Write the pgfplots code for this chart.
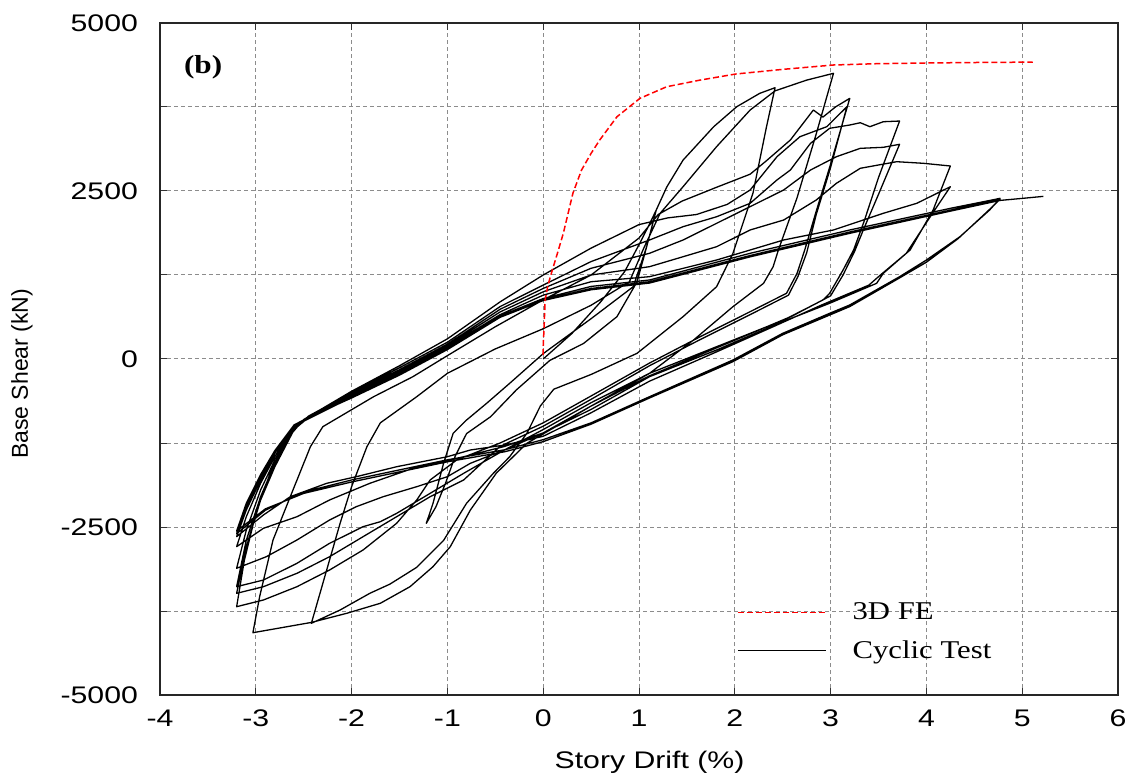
\documentclass[border=0pt]{standalone}
\usepackage{fontspec}
\setmainfont[FakeStretch=1.26]{Liberation Sans}
\newfontfamily\plainsans{Liberation Sans}
\newfontfamily\serifwide[FakeStretch=1.2]{Liberation Serif}
\usepackage{pgfplots}
\pgfplotsset{compat=1.18}

\pgfplotsset{
  festyle/.style={red, line width=0.75pt, dash pattern=on 3pt off 1.5pt},
  teststyle/.style={black, line width=0.65pt, line join=round},
}

\begin{document}
\begin{tikzpicture}
\begin{axis}[
  scale only axis,
  width=479pt, height=336pt,
  xmin=-4, xmax=6, ymin=-5000, ymax=5000,
  xtick={-4,-3,-2,-1,0,1,2,3,4,5,6},
  xticklabels={-4,-3,-2,-1,0,1,2,3,4,5,6},
  ytick={-5000,-2500,0,2500,5000},
  yticklabels={-5000,-2500,0,2500,5000},
  minor ytick={-3750,-1250,1250,3750},
  grid=both,
  major grid style={black!45, line width=0.5pt, dash pattern=on 2pt off 1.5pt},
  minor grid style={black!45, line width=0.5pt, dash pattern=on 2pt off 1.5pt},
  tick align=inside,
  major tick length=3.5pt, minor tick length=3.5pt,
  tick style={black!80, line width=0.5pt},
  axis line style={black!85, line width=1pt},
  tick label style={font=\fontsize{12}{14}\selectfont},
  xticklabel style={yshift=-4pt},
  yticklabel style={xshift=-7.5pt},
  xlabel={Story Drift (\%)},
  xlabel style={at={(axis description cs:0.511,-0.0997)}, anchor=center,
                font=\fontsize{12}{14}\selectfont},
  ylabel={Base Shear (kN)},
  ylabel style={at={(axis description cs:-0.144,0.478)}, anchor=center,
                font=\plainsans\fontsize{11.5}{14}\selectfont},
  legend style={at={(axis cs:2.02,-3555)}, anchor=north west, draw=none,
                fill=none, inner sep=0pt, row sep=5pt,
                font=\serifwide\fontsize{12.8}{15}\selectfont,
                /tikz/every odd column/.style={column sep=11pt}},
  legend cell align=left,
  legend image code/.code={\draw[#1] (0pt,0pt) -- (44pt,0pt);},
]

% cyclic test: one continuous load history
\addplot[teststyle, forget plot] coordinates {
(0,0) (0.3,380) (0.6,850) (0.85,1300) (1.0,1700) (1.1,1980) (1.18,2217)
(1.08,1671) (0.98,1150) (0.77,630) (0.42,230) (0.07,-20) (-0.28,-460) (-0.55,-860) (-0.8,-1110) (-0.92,-1450) (-1.02,-1850) (-1.12,-2200) (-1.22,-2445)
(-1.15,-2147) (-1.04,-1552) (-0.94,-1106) (-0.80,-908) (-0.59,-659) (-0.35,-362) (0,80) (0.5,600) (0.94,1076) (1.08,1671) (1.18,2217) (1.29,2560) (1.46,2960) (1.78,3457) (2.02,3754) (2.26,3953) (2.42,4037)
(2.33,3450) (2.19,2470) (1.98,1570) (1.81,1076) (1.46,630) (0.98,85) (0.5,-230) (0.11,-450) (-0.03,-700) (-0.17,-1106) (-0.35,-1454) (-0.52,-1700) (-0.80,-2147) (-1.04,-2700) (-1.32,-3100) (-1.6,-3350) (-1.81,-3487) (-2.12,-3735) (-2.42,-3933)
(-2.30,-3338) (-2.12,-2445) (-2.0,-1900) (-1.84,-1305) (-1.70,-950) (-1.32,-561) (-1.0,-213) (-0.5,150) (0,450) (0.5,800) (0.9,1150) (1.05,1650) (1.22,2167) (1.46,2564) (1.81,3160) (2.16,3705) (2.42,3990) (2.75,4150) (3.03,4251)
(2.85,3350) (2.65,2400) (2.455,1622) (2.40,1373) (2.30,1126) (1.98,778) (1.57,283) (1.11,-213) (0.5,-700) (0.2,-950) (-0.17,-1254) (-0.49,-1700) (-0.76,-2247) (-0.97,-2793) (-1.15,-3090) (-1.39,-3388) (-1.70,-3635) (-2.05,-3784) (-2.42,-3920) (-3.03,-4073)
(-2.96,-3537) (-2.82,-2693) (-2.64,-2049) (-2.43,-1305) (-2.30,-1007) (-1.77,-561) (-1.36,-263) (-1.0,50) (-0.5,480) (0,880) (0.5,1250) (1.0,1800) (1.2,2150) (1.45,2350) (1.8,2550) (2.16,2750) (2.33,2950) (2.58,3259) (2.82,3705) (2.92,3600) (3.05,3750) (3.2,3879)
(3.0,2900) (2.85,2200) (2.73,1622) (2.65,1275) (2.54,978) (2.16,704) (1.64,332) (1.11,-60) (0.5,-550) (0,-950) (-0.45,-1250) (-0.9,-1500) (-1.18,-1800) (-1.32,-2098) (-1.53,-2445) (-1.88,-2842) (-2.23,-3140) (-2.57,-3388) (-2.92,-3586) (-3.2,-3686)
(-3.12,-3000) (-3.0,-2300) (-2.85,-1700) (-2.65,-1150) (-2.5,-900) (-2.0,-480) (-1.5,-100) (-1.0,300) (-0.45,850) (0,1250) (0.5,1650) (1.0,2000) (1.3,2100) (1.6,2150) (1.92,2300) (2.16,2515) (2.44,3010) (2.68,3308) (2.96,3457) (3.17,3754)
(3.0,2850) (2.85,2150) (2.75,1580) (2.66,1230) (2.56,950) (2.16,660) (1.64,290) (1.11,-100) (0.5,-600) (0,-1000) (-0.45,-1300) (-0.83,-1800) (-1.18,-2049) (-1.53,-2347) (-1.88,-2644) (-2.23,-2942) (-2.57,-3189) (-2.92,-3388) (-3.2,-3487)
(-3.1,-2800) (-2.95,-2100) (-2.8,-1600) (-2.6,-1050) (-2.45,-850) (-2.0,-500) (-1.5,-130) (-1.0,250) (-0.45,780) (0,1100) (0.5,1450) (1.11,1771) (1.46,1969) (1.81,2117) (2.16,2317) (2.44,2664) (2.58,2812) (2.79,3209) (2.99,3433) (3.20,3482) (3.31,3516) (3.41,3457) (3.55,3531) (3.72,3541)
(3.5,2700) (3.35,2050) (3.24,1622) (3.13,1324) (2.99,978) (2.92,878) (2.51,580) (1.81,183) (1.11,-213) (0.5,-650) (0,-1050) (-0.4,-1350) (-0.83,-1701) (-1.18,-1999) (-1.53,-2297) (-1.70,-2421) (-1.88,-2495) (-2.23,-2743) (-2.57,-3040) (-2.92,-3289) (-3.2,-3388)
(-3.1,-2700) (-2.95,-2050) (-2.8,-1550) (-2.6,-1050) (-2.45,-870) (-2.0,-520) (-1.5,-160) (-1.0,220) (-0.45,740) (0,1050) (0.5,1350) (1.11,1573) (1.46,1771) (1.81,2019) (2.16,2267) (2.51,2515) (2.79,2812) (3.06,3010) (3.31,3135) (3.55,3150) (3.72,3195)
(3.5,2450) (3.35,1950) (3.25,1600) (3.13,1250) (3.0,940) (2.6,640) (1.9,220) (1.11,-250) (0.5,-700) (0,-1100) (-0.4,-1350) (-0.76,-1552) (-1.0,-1751) (-1.32,-1900) (-1.67,-2049) (-1.95,-2197) (-2.23,-2396) (-2.57,-2693) (-2.89,-2942) (-3.2,-3114)
(-3.1,-2550) (-2.95,-1950) (-2.8,-1500) (-2.6,-1020) (-2.45,-880) (-2.0,-540) (-1.5,-180) (-1.0,200) (-0.45,700) (0,1000) (0.5,1250) (1.11,1374) (1.46,1522) (1.81,1671) (2.16,1920) (2.51,2068) (2.85,2366) (3.06,2614) (3.31,2838) (3.69,2936) (3.97,2912) (4.25,2872)
(4.07,2217) (3.83,1622) (3.55,1275) (3.48,1126) (2.99,829) (2.5,555) (1.81,134) (1.11,-263) (0.5,-750) (0,-1100) (-0.4,-1300) (-0.83,-1454) (-1.36,-1627) (-1.81,-1850) (-2.23,-2098) (-2.57,-2347) (-2.92,-2519) (-3.2,-2793)
(-3.1,-2350) (-2.95,-1850) (-2.8,-1450) (-2.6,-1000) (-2.45,-880) (-2.0,-560) (-1.5,-200) (-1.0,180) (-0.45,660) (0,950) (0.5,1150) (1.11,1225) (1.81,1473) (2.51,1771) (3.03,1920) (3.55,2168) (3.90,2317) (4.25,2564)
(4.04,2117) (3.79,1573) (3.52,1250) (3.4,1100) (2.9,800) (2.4,480) (1.8,100) (1.11,-330) (0.5,-800) (0,-1150) (-0.4,-1280) (-0.76,-1354) (-1.0,-1454) (-1.53,-1603) (-1.95,-1751) (-2.26,-1850) (-2.64,-2049) (-2.92,-2321) (-3.2,-2644)
(-3.1,-2250) (-2.95,-1800) (-2.8,-1400) (-2.6,-1000) (-2.45,-890) (-2.0,-570) (-1.5,-220) (-1.0,160) (-0.45,640) (0,900) (0.5,1080) (1.11,1176) (2.16,1573) (3.20,1920) (4.25,2242) (4.77,2391)
(4.66,2217) (4.35,1820) (4.0,1473) (3.72,1225) (3.20,804) (2.99,680) (2.5,382) (1.98,-15) (1.11,-561) (0.5,-950) (0,-1200) (-0.4,-1350) (-1.0,-1500) (-1.5,-1650) (-2.0,-1800) (-2.5,-1980) (-2.9,-2250) (-3.2,-2600)
(-3.1,-2200) (-2.95,-1750) (-2.8,-1380) (-2.6,-990) (-2.45,-880) (-2.0,-575) (-1.5,-230) (-1.0,150) (-0.45,630) (0,880) (0.5,1050) (1.11,1150) (2.16,1540) (3.20,1890) (4.25,2215) (4.77,2380)
(4.64,2200) (4.33,1790) (4.0,1440) (3.7,1190) (3.2,780) (2.5,360) (1.98,-40) (1.11,-580) (0.5,-970) (0,-1230) (-0.4,-1380) (-1.0,-1530) (-1.5,-1680) (-2.0,-1830) (-2.5,-2000) (-2.9,-2230) (-3.2,-2560)
(-3.1,-2150) (-2.95,-1720) (-2.8,-1360) (-2.6,-980) (-2.45,-870) (-2.0,-580) (-1.5,-240) (-1.0,140) (-0.45,620) (0,870) (0.5,1030) (1.11,1130) (2.16,1520) (3.20,1870) (4.25,2200) (4.77,2360) (5.0,2390) (5.22,2420)
};

% 3D finite element pushover
\addplot[festyle, forget plot] coordinates {
(0,60) (0,183) (0.01,500) (0.02,878) (0.05,1100) (0.085,1275) (0.15,1580) (0.21,1870) (0.31,2466) (0.40,2812) (0.5,3060) (0.59,3259) (0.77,3605) (1.01,3879) (1.29,4052) (1.64,4151) (2.01,4241) (2.5,4310) (3.03,4375) (3.5,4395) (4.0,4405) (4.5,4412) (5.11,4418)
};

\addlegendimage{festyle}
\addlegendentry{3D FE}
\addlegendimage{teststyle}
\addlegendentry{Cyclic Test}

\node[font=\serifwide\bfseries\fontsize{13}{15}\selectfont] at (axis cs:-3.55,4340) {(b)};
\end{axis}
\pgfresetboundingbox
\path ([shift={(-80pt,-41pt)}]current axis.south west) rectangle ([shift={(6.5pt,11.5pt)}]current axis.north east);
\end{tikzpicture}
\end{document}
